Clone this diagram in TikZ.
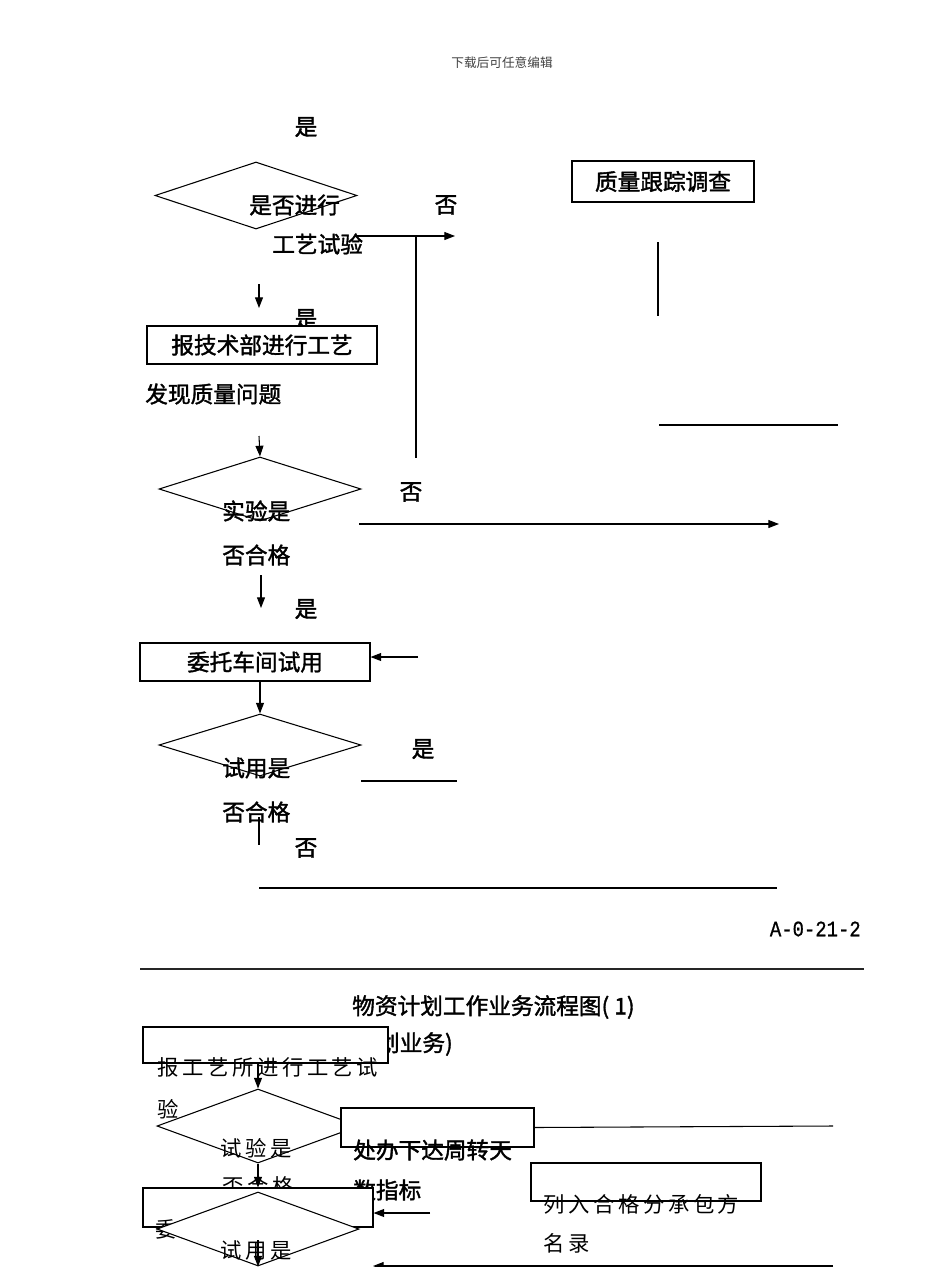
\documentclass[tikz,border=0pt]{standalone}
\usepackage{fontspec}
\usetikzlibrary{arrows.meta,shapes.geometric}
\newfontfamily\hei[FakeBold=1.6]{Noto Sans CJK SC}
\newfontfamily\song{Noto Sans CJK SC}
\newfontfamily\songsp[LetterSpace=17]{Noto Sans CJK SC}
\newfontfamily\monof[FakeStretch=0.86,FakeBold=0.8]{Liberation Mono}
\tikzset{
  lbl/.style={inner sep=0pt, font=\hei\fontsize{17}{20}\selectfont},
  thin/.style={inner sep=0pt, font=\songsp\fontsize{16}{20}\selectfont},
  hdr/.style={inner sep=0pt, text=black!75, font=\song\fontsize{9.5}{11}\selectfont},
  box/.style={draw, line width=0.8pt, rectangle, inner sep=0pt, fill=white},
  dia/.style={draw, line width=0.8pt, diamond, inner sep=0pt, aspect=3, fill=white},
  ln/.style={line width=0.8pt},
  arr/.style={line width=0.8pt, -{Triangle[length=8pt,width=6pt]}},
}
\begin{document}
\begin{tikzpicture}[x=0.75pt,y=-0.75pt]
\useasboundingbox (0,0) rectangle (950,1267);
% header
\node[hdr] (hdr) at (502,63) {下载后可任意编辑};
% ---------------- top part ----------------
\node[lbl] (yes1) at (306,127) {是};
\node[dia, minimum width=202*0.75pt, minimum height=67*0.75pt] (D1) at (256,195.5) {};
\node[lbl, anchor=west] (t1a) at (249,205) {是否进行};
\node[lbl, anchor=west] (t1b) at (272,244) {工艺试验};
\node[lbl] (no1) at (446,205) {否};
\coordinate (a1s) at (355,236);
\coordinate (a1e) at (455,236);
\draw[arr] (a1s) -- (a1e);
\coordinate (v1t) at (416,236);
\coordinate (v1b) at (416,458);
\draw[ln] (v1t) -- (v1b);
\node[box, minimum width=182*0.75pt, minimum height=41*0.75pt, font=\hei\fontsize{17}{20}\selectfont] (B1) at (663,181.5) {质量跟踪调查};
\coordinate (v2t) at (658,242);
\coordinate (v2b) at (658,316);
\draw[ln] (v2t) -- (v2b);
\coordinate (a2s) at (259,284);
\coordinate (a2e) at (259,308);
\draw[arr] (a2s) -- (a2e);
\node[lbl] (yes2) at (306,319) {是};
\node[box, minimum width=230*0.75pt, minimum height=38*0.75pt, font=\hei\fontsize{17}{20}\selectfont] (B2) at (262,345) {报技术部进行工艺};
\node[lbl, anchor=west] (t2) at (145,394) {发现质量问题};
\coordinate (h1a) at (659,425);
\coordinate (h1b) at (838,425);
\draw[ln] (h1a) -- (h1b);
\coordinate (a3s) at (259,436);
\node[dia, minimum width=202*0.75pt, minimum height=64*0.75pt] (D2) at (260,489) {};
\draw[arr] (a3s) -- (D2.north);
\node[lbl, anchor=west] (t3a) at (222,511) {实验是};
\node[lbl] (no2) at (411,492) {否};
\coordinate (a4s) at (359,524);
\coordinate (a4e) at (779,524);
\draw[arr] (a4s) -- (a4e);
\node[lbl, anchor=west] (t3b) at (222,555) {否合格};
\coordinate (a5s) at (261,575);
\coordinate (a5e) at (261,608);
\draw[arr] (a5s) -- (a5e);
\node[lbl] (yes3) at (306,609) {是};
\node[box, minimum width=230*0.75pt, minimum height=38*0.75pt, font=\hei\fontsize{17}{20}\selectfont] (B3) at (255,662) {委托车间试用};
\coordinate (a6s) at (418,657);
\draw[arr] (a6s) -- (a6s -| B3.east);
\node[dia, minimum width=202*0.75pt, minimum height=62*0.75pt] (D3) at (260,745) {};
\draw[arr] (B3.south -| D3.north) -- (D3.north);
\node[lbl] (yes4) at (423,749) {是};
\coordinate (h2a) at (361,781);
\coordinate (h2b) at (457,781);
\draw[ln] (h2a) -- (h2b);
\node[lbl, anchor=west] (t4a) at (222,768) {试用是};
\node[lbl, anchor=west] (t4b) at (222,812) {否合格};
\coordinate (v3t) at (259,817);
\coordinate (v3b) at (259,845);
\draw[ln] (v3t) -- (v3b);
\node[lbl] (no3) at (306,848) {否};
\coordinate (h3a) at (259,888);
\coordinate (h3b) at (777,888);
\draw[ln] (h3a) -- (h3b);
% ---------------- code and rule ----------------
\node[inner sep=0pt, anchor=east, font=\monof\fontsize{16.5}{19}\selectfont] (code) at (861,929) {A-0-21-2};
\coordinate (r1) at (140,969);
\coordinate (r2) at (864,969);
\draw[line width=1pt, black!85] (r1) -- (r2);
% ---------------- bottom part ----------------
\node[lbl, anchor=west] (title) at (352,1007) {物资计划工作业务流程图( 1)};
\node[lbl, anchor=east] (sub) at (453,1044) {计划业务)};
\node[box, minimum width=245*0.75pt, minimum height=36*0.75pt] (B4) at (265.5,1045) {};
\node[thin, anchor=west] (t5a) at (157,1067) {报工艺所进行工艺试};
\node[dia, minimum width=202*0.75pt, minimum height=74*0.75pt] (D4) at (258,1126) {};
\draw[arr] (B4.south -| D4.north) -- (D4.north);
\node[thin, anchor=west] (t5b) at (157,1109) {验};
\node[thin, anchor=west] (t6a) at (220,1148) {试验是};
\node[box, minimum width=193*0.75pt, minimum height=39*0.75pt] (B5) at (437.5,1127.5) {};
\node[lbl, anchor=west] (t7a) at (353,1150) {处办下达周转天};
\coordinate (h4b) at (833,1126);
\draw[ln] (B5.east) -- (h4b);
\node[lbl, anchor=west] (t7b) at (353,1190) {数指标};
\node[thin, anchor=west] (t6b) at (222,1186) {否合格};
\node[box, minimum width=230*0.75pt, minimum height=39*0.75pt] (B6) at (258,1207.5) {};
\draw[arr] (D4.south) -- (D4.south |- B6.north);
\node[thin, anchor=west] (t8) at (155,1229) {委托车间试用};
\node[dia, minimum width=202*0.75pt, minimum height=74*0.75pt] (D5) at (258,1229) {};
\node[thin, anchor=west] (t9) at (220,1250) {试用是};
\coordinate (a7s) at (258,1240);
\draw[arr] (a7s) -- (D5.south);
\coordinate (a8s) at (430,1213);
\draw[arr] (a8s) -- (a8s -| B6.east);
\node[box, minimum width=230*0.75pt, minimum height=38*0.75pt] (B7) at (646,1182) {};
\node[thin, anchor=west] (t10a) at (543,1204) {列入合格分承包方};
\node[thin, anchor=west] (t10b) at (543,1243) {名录};
\coordinate (a9s) at (833,1266);
\coordinate (a9e) at (373,1266);
\draw[arr] (a9s) -- (a9e);
\end{tikzpicture}
\end{document}
